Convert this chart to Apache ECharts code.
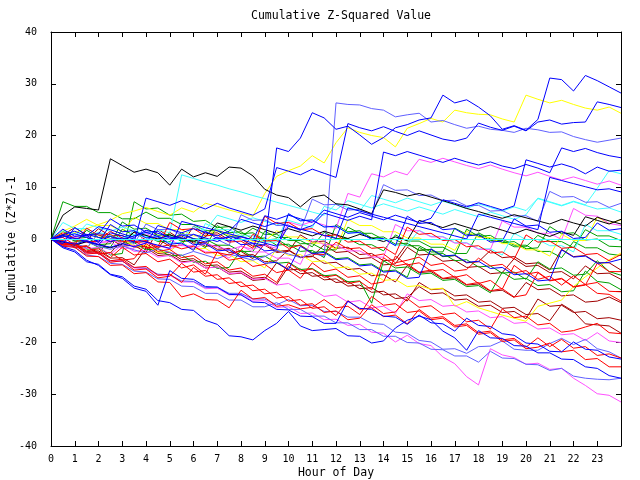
<!DOCTYPE html>
<html>
<head>
<meta charset="utf-8">
<script src="https://cdn.jsdelivr.net/npm/echarts@6/dist/echarts.min.js"></script>
<style>
html,body{margin:0;padding:0;background:#fff;}
#chart{width:640px;height:480px;}
</style>
</head>
<body>
<div id="chart"></div>
<script>
// half-hour samples, 0 .. 24
const hours = [0,0.5,1,1.5,2,2.5,3,3.5,4,4.5,5,5.5,6,6.5,7,7.5,8,8.5,9,9.5,10,10.5,11,11.5,
  12,12.5,13,13.5,14,14.5,15,15.5,16,16.5,17,17.5,18,18.5,19,19.5,20,20.5,21,21.5,22,22.5,23,23.5,24]
const hourLabels = ['0','1','2','3','4','5','6','7','8','9','10','11','12','13','14','15','16','17','18','19','20','21','22','23']
const yLabels = ['-40','-30','-20','-10','0','10','20','30','40']

const blue1 = [0,0.8,1.5,0.6,2.4,1.8,1.0,0.3,1.7,1.1,0.4,-0.2,
  0.9,0.2,-0.5,0.6,-0.1,-0.8,-1.2,17.6,16.9,19.5,24.4,23.4,
  21.2,21.8,20.1,18.3,19.6,21.5,22.1,23.0,23.4,27.8,26.3,26.9,
  25.5,23.8,21.2,21.9,21.0,23.1,31.1,30.8,28.6,31.6,30.6,29.4,28.2]
const slate1 = [0,-0.4,-1.1,-0.6,-1.4,-2.0,-1.3,-2.1,-2.7,-1.9,-2.6,-3.2,
  -2.4,-3.1,-3.8,-2.9,-3.5,-4.1,-3.4,-2.2,-2.9,-3.6,-2.8,-3.3,
  26.3,26.0,25.9,25.2,24.9,23.6,24.0,24.3,22.6,22.9,22.1,21.4,
  21.8,21.2,21.0,20.6,21.4,21.1,20.6,20.7,19.8,19.2,18.7,19.1,19.5]
const yellow1 = [0,0.5,1.2,2.0,2.8,3.6,4.9,5.4,6.1,5.3,4.6,6.0,
  5.2,6.9,6.3,5.6,5.0,4.4,8.8,12.1,13.2,14.1,16.1,14.7,
  18.6,21.5,20.6,20.0,19.6,17.8,21.4,22.3,23.3,22.6,24.9,24.4,
  24.1,24.0,23.2,22.6,27.8,27.0,26.3,26.8,26.0,25.3,24.9,25.5,24.3]
const blue2 = [0,0.6,-0.2,0.9,0.3,-0.5,0.2,-0.6,7.9,7.2,6.5,7.4,
  6.6,5.8,6.9,6.0,5.3,4.6,5.8,13.8,13.1,12.4,13.5,12.7,
  11.9,22.3,21.5,20.9,21.7,20.8,20.0,20.9,20.1,19.3,18.9,19.5,
  22.4,21.6,21.0,21.8,20.9,22.6,23.0,22.2,22.5,22.6,26.5,26.0,25.4]
const blue3 = [0,-0.5,-1.0,-0.3,-1.1,-1.6,-0.9,-1.5,-0.8,2.6,1.9,1.2,
  2.0,1.3,0.6,1.5,3.8,3.1,2.4,3.2,2.5,1.8,2.6,5.0,
  4.3,3.6,4.4,3.7,16.8,16.1,16.9,16.2,15.5,14.8,15.6,14.9,
  14.3,14.9,14.1,13.6,14.4,13.7,12.8,17.6,16.9,17.5,16.7,16.1,15.7]
const blue4 = [0,0.4,1.0,0.3,-0.4,0.5,-0.2,0.6,1.3,0.5,-0.1,0.8,
  0.1,-0.6,0.3,-0.4,0.5,-0.2,4.5,3.8,4.6,3.9,3.2,5.6,
  4.9,4.2,5.1,4.4,3.7,4.6,3.9,3.2,4.0,7.6,6.9,6.2,
  7.0,6.3,5.6,6.4,15.3,14.6,13.9,14.5,13.8,12.6,13.9,13.1,13.3]
const magenta1 = [0,-0.5,0.3,-0.3,-0.9,-0.2,-0.8,-1.4,-0.7,-1.3,-1.9,-1.1,
  -1.8,-0.9,-1.5,-2.1,-1.4,-2.0,-1.2,-1.8,3.3,2.6,3.4,2.7,
  2.0,8.8,8.1,12.6,12.0,13.1,12.4,15.4,14.8,15.6,14.9,14.2,
  13.6,14.3,13.5,12.8,12.2,12.9,12.1,11.4,12.0,11.3,10.6,11.2,10.4]
const cyan1 = [0,1.6,1.0,0.4,1.3,0.7,0.1,0.9,0.3,-0.3,0.6,0.0,
  2.4,1.7,4.6,3.9,3.2,4.1,3.4,2.7,3.6,2.9,2.2,6.3,
  5.6,7.4,6.7,6.0,6.8,6.1,5.4,6.2,5.5,4.8,5.7,5.0,
  4.3,5.2,4.5,3.8,4.7,7.9,7.2,6.5,7.3,6.6,9.8,13.2,12.6]
const cyan2 = [0,-0.3,0.5,2.9,2.2,1.5,2.3,1.6,0.9,1.8,1.2,12.4,
  11.7,11.0,10.4,9.7,9.1,8.4,7.8,7.1,6.5,5.9,5.2,4.6,
  6.8,6.1,5.4,8.4,7.7,7.0,7.9,7.2,6.5,7.3,6.6,5.9,
  6.8,6.1,5.4,6.2,5.5,7.8,7.1,6.4,7.2,6.5,5.8,6.0,5.2]
const cyan3 = [0,3.2,2.0,2.0,0.8,0.8,-0.4,1.7,0.5,0.5,-0.7,-0.7,
  -1.9,3.0,1.8,1.8,0.6,0.6,-0.6,-0.6,4.8,3.6,3.6,2.4,
  2.4,1.2,1.2,0.0,0.0,-1.2,-1.2,1.7,0.5,0.5,-0.7,-0.7,
  -1.9,-1.9,-3.1,1.1,-0.1,-0.1,-1.3,-1.3,-2.5,2.8,1.6,1.6,0.9]
const black1 = [0,4.6,6.2,5.9,5.6,15.5,14.2,12.9,13.5,12.8,10.4,13.5,
  12.0,12.8,12.1,13.9,13.7,12.2,9.6,8.5,8.0,6.2,8.1,8.5,
  6.8,6.6,5.8,4.9,9.5,9.0,8.3,8.8,8.1,7.4,6.7,5.9,
  5.3,4.6,4.0,4.7,4.1,3.5,2.9,3.8,3.1,2.5,4.2,3.5,2.9]
const black2 = [0,-0.6,-1.2,-0.5,-1.1,-1.7,-1.0,1.4,0.7,0.0,0.8,0.1,
  -0.5,0.4,3.1,2.4,1.7,2.5,1.8,1.1,2.0,1.3,0.6,1.5,
  0.8,0.1,0.9,0.2,-0.5,0.4,-0.3,3.6,2.9,2.2,3.0,2.3,
  1.6,2.4,1.7,1.0,1.9,1.2,0.5,1.4,0.7,4.3,3.6,2.9,3.8]
const red1 = [0,1.2,0.1,-0.6,-0.4,1.5,0.2,-0.5,-0.3,-1.6,-1.1,-1.9,
  -1.4,-2.7,-2.6,-3.1,-2.2,0.9,-0.4,-0.3,-1.8,-1.2,-2.9,-3.0,
  -0.6,-1.9,-1.7,-3.3,-2.9,-4.6,-4.1,-3.5,-5.1,-4.7,-6.2,-5.9,
  -3.7,-5.2,-4.9,-6.6,-6.1,-7.8,-7.2,-8.9,-7.1,-8.8,-8.4,-10.1,-10.2]
const red2 = [0,-0.9,-0.8,-2.3,-1.9,-3.6,-1.6,-3.1,-2.8,-4.4,-3.9,-5.6,
  -5.0,-6.8,-2.5,-4.1,-3.7,-5.3,-4.9,-6.5,-6.0,-7.6,-4.6,-6.3,
  -5.8,-7.4,-7.1,-8.7,-8.3,-3.3,-5.0,-4.6,-6.2,-5.9,-7.4,-6.9,
  -8.6,-8.0,-9.7,-5.1,-6.8,-6.4,-8.0,-7.6,-9.2,-8.8,-10.5,-10.7,-12.0]
const red3 = [0,-1.1,-1.0,-2.6,-2.5,-4.2,-3.9,-5.5,-5.3,-7.0,-6.8,-8.4,
  -5.5,-7.2,-6.9,-8.6,-8.3,-10.0,-9.7,-11.4,-11.1,-12.8,-12.5,-14.2,
  -13.9,-15.6,-15.3,-12.7,-14.4,-14.1,-11.5,-13.2,-12.9,-14.6,-14.3,-16.0,
  -15.7,-17.4,-13.5,-15.2,-14.9,-16.6,-16.3,-18.0,-17.7,-17.0,-16.3,-18.1,-18.3]
const red4 = [0,-0.3,-1.6,-1.4,-2.9,-2.6,-4.1,-3.8,-0.9,-2.4,-2.0,-3.6,
  -3.2,-4.8,-4.4,-6.0,-5.6,-7.2,-6.8,-8.4,-4.6,-6.2,-5.8,-7.4,
  -7.0,-8.6,-8.2,-9.8,-3.6,-5.2,-4.8,-6.4,-6.0,-7.6,-7.2,-8.8,
  -8.4,-10.0,-9.6,-11.2,-10.8,-6.5,-8.1,-7.7,-9.3,-8.9,-4.7,-6.3,-6.3]
const red5 = [0,-1.2,-1.1,-2.9,-2.7,-4.5,-4.2,-6.0,-5.8,-7.5,-7.2,-4.7,
  -6.4,-6.1,-7.8,-7.5,-9.2,-8.9,-10.6,-10.3,-12.0,-11.7,-13.4,-13.1,
  -14.8,-11.9,-13.6,-13.3,-15.0,-14.7,-16.4,-13.6,-15.3,-15.0,-16.7,-16.4,
  -18.1,-17.8,-19.5,-19.2,-20.9,-19.1,-20.8,-19.4,-21.1,-20.8,-22.5,-22.2,-23.0]
const red6 = [0,-1.4,-1.6,-3.3,-3.4,-5.1,-5.0,-6.7,-6.5,-8.3,-8.4,-11.2,
  -10.6,-11.7,-11.8,-13.3,-9.9,-11.6,-11.3,-13.0,-12.7,-13.5,-13.2,-11.7,
  -13.3,-13.0,-14.6,-11.1,-12.8,-12.5,-14.2,-13.9,-15.6,-15.3,-17.0,-16.7,
  -18.4,-18.1,-19.8,-19.5,-21.2,-20.9,-20.1,-21.8,-21.5,-23.3,-23.1,-24.7,-24.7]
const red7 = [0,0.3,-1.1,2.1,0.7,0.9,-0.5,-0.3,-1.7,-1.5,3.2,1.8,
  2.0,0.6,0.8,-0.6,-0.4,-1.8,4.4,3.0,3.2,1.8,2.0,0.6,
  0.8,-0.6,-0.4,-1.8,-1.6,-3.0,2.3,0.9,1.1,-0.3,-0.1,-1.5,
  -1.3,-2.7,-2.5,-3.9,0.8,-0.6,-0.4,-1.8,-1.6,-3.0,-2.8,-4.2,-3.0]
const darkred1 = [0,0.9,-0.4,-0.3,2.0,0.6,0.7,-0.7,-0.5,-1.9,1.3,-0.2,
  0.0,-1.4,-1.2,-2.6,-2.4,-3.8,-0.9,-2.4,-2.2,-3.6,-3.4,-1.1,
  -2.6,-2.4,-3.8,-3.6,-5.0,-4.8,-1.6,-3.1,-2.9,-4.3,-4.1,-5.5,
  -5.3,-6.7,-6.5,-3.8,-5.3,-5.1,-6.5,-6.3,-7.7,-5.2,-6.7,-6.6,-7.8]
const darkred2 = [0,-0.2,-1.5,-1.3,-2.7,0.0,-1.4,-1.2,-2.6,1.9,0.4,0.6,
  -0.8,-0.6,-2.0,-1.8,-3.2,-3.0,-4.4,-4.2,-2.1,-3.5,-3.3,-4.7,
  -4.5,-5.9,-5.7,-7.1,-6.9,-8.3,-5.1,-6.5,-6.3,-7.7,-7.5,-8.9,
  -8.7,-10.1,-9.9,-11.3,-8.4,-9.8,-9.6,-11.0,-10.8,-12.2,-12.0,-11.2,-12.3]
const darkred3 = [0,-1.1,-1.0,-2.4,-2.3,-3.7,-3.6,-5.0,-1.7,-3.2,-3.0,-4.4,
  -4.2,-5.6,-5.4,-6.8,-6.6,-8.0,-7.8,-4.6,-6.0,-5.8,-7.2,-7.0,
  -8.4,-8.2,-9.6,-9.4,-10.8,-10.6,-12.0,-8.4,-9.8,-9.6,-11.0,-10.8,
  -12.2,-12.0,-13.4,-13.2,-14.6,-14.4,-15.8,-12.6,-14.0,-16.4,-16.6,-16.8,-18.2]
const darkred4 = [0,0.8,2.2,0.7,0.9,-0.5,-0.3,1.3,-0.2,0.0,-1.4,-1.2,
  2.5,1.0,1.2,-0.2,0.0,-1.4,-1.2,-2.6,-2.4,0.8,-0.6,-0.4,
  -1.8,-1.6,-3.0,-2.8,-4.2,-4.0,-0.8,-2.2,-2.0,-3.4,-3.2,-4.6,
  -4.4,-2.2,-3.6,-3.4,-4.8,-4.6,-6.0,-2.0,-3.4,-3.2,-4.6,-4.6,-6.0]
const darkred5 = [0,-0.4,-1.7,-1.5,-2.9,-2.7,-0.2,-1.6,-1.4,-2.8,-2.6,-4.0,
  -3.8,-5.2,-5.0,-6.4,-6.2,-7.6,-7.4,-8.8,-5.3,-6.7,-6.5,-7.9,
  -7.7,-9.1,-8.9,-10.3,-10.1,-11.5,-11.3,-9.2,-10.6,-10.4,-11.8,-11.6,
  -13.0,-12.8,-14.2,-14.0,-15.4,-11.6,-13.0,-12.8,-14.2,-14.0,-15.4,-15.2,-15.7]
const green1 = [0,7.2,6.3,6.3,5.1,5.1,3.9,3.9,5.2,4.0,4.0,2.8,
  2.8,1.6,1.6,0.4,0.4,2.1,0.9,0.9,-0.3,-0.3,-1.5,1.3,
  0.1,0.1,-1.1,-1.1,-2.3,0.8,-0.4,-0.4,-1.6,-1.6,-2.8,-2.8,
  1.2,0.0,0.0,-1.2,-1.2,-2.4,-2.4,-3.6,-0.5,-1.7,-1.7,-2.9,-3.2]
const green2 = [0,-0.9,-0.6,-2.0,-1.7,-3.1,-2.8,7.2,5.8,6.0,4.6,4.8,
  3.4,3.6,2.2,2.4,1.0,1.2,-0.2,0.0,-1.4,-1.2,-2.6,-2.4,
  -3.8,-3.6,-5.0,-4.8,-6.2,-6.0,-7.4,-1.6,-3.0,-2.8,-4.2,-4.0,
  -5.4,-5.2,-6.6,-6.4,-7.8,-4.4,-5.8,-5.6,-7.0,-6.8,-4.2,-6.3,-7.0]
const green3 = [0,-1.0,-0.8,1.7,0.3,0.5,-0.9,-0.7,-2.1,-1.9,-3.3,-3.1,
  -4.5,-4.3,-5.7,-5.5,-2.1,-3.5,-3.3,-4.7,-4.5,-5.9,-5.7,-7.1,
  -6.9,-8.3,-8.1,-12.4,-4.2,-5.6,-5.4,-6.8,-6.6,-8.0,-7.8,-9.2,
  -9.0,-10.4,-6.4,-7.8,-7.6,-9.0,-8.8,-10.2,-10.0,-6.2,-8.2,-8.5,-9.8]
const green4 = [0,0.8,-0.4,-0.4,-1.6,-1.6,1.9,0.7,0.7,-0.5,-0.5,1.2,
  0.0,0.0,-1.2,-1.2,-2.4,-2.4,1.5,0.3,0.3,-0.9,-0.9,-2.1,
  -2.1,2.3,1.1,1.1,-0.1,-0.1,-1.3,-1.3,-2.5,-2.5,2.1,0.9,
  0.9,-0.3,-0.3,-1.5,-1.5,0.7,-0.5,-0.5,-1.7,1.8,0.6,0.6,-0.3]
const green5 = [0,1.5,0.1,0.3,-1.1,-0.9,3.3,1.9,2.1,0.7,0.9,-0.5,
  -0.3,-1.7,2.6,1.2,1.4,0.0,0.2,-1.2,-1.0,-2.4,-2.2,-3.6,
  2.8,1.4,1.6,0.2,0.4,-1.0,-0.8,-2.2,-2.0,-3.4,-3.2,1.9,
  0.5,0.7,-0.7,-0.5,-1.9,-1.7,2.4,1.0,1.2,-0.2,0.0,-1.4,-1.5]
const yellow2 = [0,-0.9,-0.6,-2.0,1.2,-0.2,0.0,-1.4,-1.2,-2.6,-2.4,-0.6,
  -2.0,-1.8,-3.2,-3.0,-4.4,-4.2,-5.6,-1.8,-3.2,-3.0,-4.4,-4.2,
  -5.6,-5.4,-6.8,-6.6,-8.0,-7.8,-9.2,-9.0,-9.7,-9.5,-13.0,-12.1,
  -13.3,-14.0,-14.7,-15.3,-15.9,-13.0,-12.4,-11.8,-9.2,-7.3,-5.6,-4.0,-2.7]
const yellow3 = [0,1.5,2.5,3.8,2.6,2.6,1.4,4.2,3.0,3.0,1.8,1.8,
  0.6,0.6,1.9,0.7,0.7,-0.5,-0.5,1.6,0.4,0.4,-0.8,-0.8,
  -2.0,3.8,2.6,2.6,1.4,1.4,0.2,0.2,-1.0,-1.0,-2.2,1.5,
  0.3,0.3,-0.9,-0.9,-2.1,-2.1,-3.3,0.9,-0.3,-0.3,4.2,3.0,3.7]
const magenta2 = [0,-0.8,-0.7,-1.9,-1.6,-3.0,-1.1,-2.4,-2.2,-3.5,-3.2,-4.6,
  -4.3,-5.6,-5.4,-6.7,-6.5,-7.8,-7.6,-8.9,-8.6,-10.0,-9.7,-11.1,
  -10.8,-12.2,-11.9,-13.3,-13.0,-14.4,-10.6,-11.9,-11.7,-13.0,-12.8,-14.1,
  -13.9,-15.2,-15.0,-16.3,-16.1,-17.4,-17.2,-18.5,-18.3,-19.6,-18.1,-19.7,-20.0]
const magenta3 = [0,-0.1,0.6,0.6,-0.6,-0.6,-1.8,-1.8,1.1,-0.1,-0.1,-1.3,
  -1.3,-2.5,-2.5,-3.7,-1.3,-2.5,-2.5,-3.7,-3.7,-4.9,0.1,-1.1,
  -1.1,-2.3,-2.3,-3.5,-3.5,2.8,1.6,1.6,0.4,0.4,-0.8,-0.8,
  -2.0,-2.0,3.5,2.3,2.3,1.1,1.1,-0.1,5.9,4.6,4.4,3.0,2.6]
const magenta4 = [0,-1.1,-1.3,-2.7,-2.8,-4.2,-4.3,-5.6,-5.7,-7.0,-7.0,-8.3,
  -8.3,-9.6,-9.5,-10.8,-10.7,-12.0,-11.9,-13.2,-13.1,-14.4,-14.3,-15.6,
  -15.5,-16.7,-16.5,-18.0,-18.2,-19.9,-18.6,-20.2,-20.6,-22.8,-24.1,-26.6,
  -28.2,-21.2,-22.4,-22.9,-24.2,-24.0,-25.2,-25.0,-26.9,-28.3,-29.9,-30.2,-31.5]
const blue5 = [0,-0.9,2.2,0.8,1.0,3.9,2.5,2.7,1.3,1.5,0.1,0.3,
  -1.1,-0.9,-2.3,-2.1,-3.5,-3.3,-4.7,-4.5,-5.9,-1.4,-2.8,-2.6,
  -4.0,-3.8,-5.2,-5.0,-6.4,-6.2,-7.6,-7.4,-1.9,-3.3,-3.1,-4.5,
  -4.3,-5.7,-5.5,-6.9,-6.7,-8.1,-7.9,-2.1,-3.5,-3.3,-4.7,-4.5,-3.9]
const blue6 = [0,0.7,0.1,-0.5,-1.1,1.2,0.6,0.0,-0.6,-1.2,-1.8,3.4,
  2.8,2.2,1.6,1.0,0.4,-0.2,-0.8,-1.4,2.5,1.9,1.3,0.7,
  0.1,6.0,5.4,4.8,4.2,3.6,3.0,2.4,1.8,1.2,0.6,0.0,
  4.8,4.2,3.6,3.0,2.4,1.8,11.9,11.3,10.7,10.1,9.5,9.7,9.1]
const blue7 = [0,-1.7,-2.5,-4.4,-4.9,-6.8,-7.3,-9.1,-9.7,-11.9,-12.3,-13.6,
  -13.8,-15.7,-16.5,-18.7,-18.9,-19.5,-17.7,-16.3,-14.0,-16.8,-17.7,-17.5,
  -17.3,-18.7,-18.8,-20.1,-19.7,-17.2,-15.7,-14.9,-15.6,-17.8,-19.1,-21.5,
  -17.7,-19.1,-19.2,-20.6,-20.7,-22.0,-22.0,-23.2,-23.3,-24.7,-25.0,-26.4,-26.9]
const blue8 = [0,-1.5,-2.2,-4.1,-5.1,-6.9,-7.6,-9.5,-10.1,-12.8,-6.1,-7.6,
  -7.8,-9.2,-9.3,-10.7,-10.8,-12.2,-12.3,-13.6,-13.7,-14.9,-15.0,-16.3,
  -16.3,-12.0,-13.4,-13.6,-14.9,-15.1,-16.5,-14.7,-16.2,-16.4,-17.8,-15.3,
  -16.7,-16.9,-18.3,-18.6,-20.1,-20.3,-21.7,-21.8,-19.9,-21.3,-21.5,-22.8,-23.2]
const blue9 = [0,1.9,0.5,0.7,-0.7,2.8,1.4,1.6,0.2,0.4,-1.0,-0.8,
  -2.2,1.5,0.1,0.3,-1.1,-0.9,-2.3,-2.1,4.9,3.5,3.7,2.3,
  2.5,1.1,1.3,-0.1,0.1,-1.3,4.4,3.0,3.2,1.8,2.0,0.6,
  0.8,-0.6,-0.4,3.9,2.5,2.7,1.3,1.5,0.1,0.3,3.1,1.7,2.0]
const slate2 = [0,-1.1,-1.3,-2.6,-2.8,-4.2,-4.3,-5.5,-5.6,-6.8,-6.9,-8.1,
  -8.2,-9.4,-9.3,-10.5,-10.5,-11.6,-11.6,-12.7,-11.7,-12.9,-12.8,-14.0,
  -14.0,-15.1,-15.1,-16.3,-16.5,-18.0,-18.2,-19.6,-19.9,-21.3,-21.2,-22.1,
  -20.8,-20.7,-19.7,-21.3,-21.5,-21.5,-20.2,-19.2,-20.4,-19.4,-21.2,-21.8,-23.0]
const slate3 = [0,-1.2,-1.6,-3.1,-3.4,-4.7,-4.9,-6.2,-6.4,-7.7,-7.8,-9.1,
  -9.2,-10.5,-10.5,-11.8,-11.8,-13.1,-13.1,-12.3,-13.6,-13.6,-14.9,-14.9,
  -16.2,-16.2,-17.5,-17.5,-18.8,-18.8,-20.0,-20.1,-21.3,-21.4,-22.6,-22.6,
  -23.8,-21.7,-23.0,-23.1,-24.2,-24.3,-25.4,-25.0,-26.5,-26.9,-27.1,-27.2,-26.9]
const slate4 = [0,-0.8,-0.7,-1.8,1.2,0.1,0.2,-0.9,2.9,1.8,1.9,0.8,
  0.9,-0.2,-0.1,-1.2,4.7,3.6,3.7,2.6,2.7,1.6,7.7,6.6,
  6.7,5.6,5.7,4.6,10.5,9.4,9.5,8.4,8.5,7.4,7.5,6.4,
  6.5,5.4,5.5,4.4,4.5,3.4,9.2,8.1,8.2,7.1,7.2,6.1,6.9]

let lines = [
  ['#a00000', darkred1], ['#a00000', darkred2], ['#a00000', darkred3], ['#a00000', darkred4], ['#a00000', darkred5],
  ['#00a000', green1], ['#00a000', green2], ['#00a000', green3], ['#00a000', green4], ['#00a000', green5],
  ['#ffff00', yellow1], ['#ffff00', yellow2], ['#ffff00', yellow3],
  ['#40ffff', cyan1], ['#40ffff', cyan2], ['#40ffff', cyan3],
  ['#ff50ff', magenta1], ['#ff50ff', magenta2], ['#ff50ff', magenta3], ['#ff50ff', magenta4],
  ['#6060ff', slate1], ['#6060ff', slate2], ['#6060ff', slate3], ['#6060ff', slate4],
  ['#000000', black1], ['#000000', black2],
  ['#ff0000', red1], ['#ff0000', red2], ['#ff0000', red3], ['#ff0000', red4],
  ['#ff0000', red5], ['#ff0000', red6], ['#ff0000', red7],
  ['#0000ff', blue1], ['#0000ff', blue2], ['#0000ff', blue3], ['#0000ff', blue4], ['#0000ff', blue5],
  ['#0000ff', blue6], ['#0000ff', blue7], ['#0000ff', blue8], ['#0000ff', blue9]
]

let font = 'DejaVu Sans Mono'
let series = lines.map(function (l) {
  return {
    type: 'line',
    data: hours.map(function (h, i) { return [h, l[1][i]] }),
    showSymbol: false,
    symbol: 'none',
    lineStyle: { color: l[0], width: 1 },
    itemStyle: { color: l[0] },
    silent: true,
    z: 2
  }
})
// cyan reference line at zero
series.push({
  type: 'line',
  data: [],
  markLine: {
    silent: true,
    symbol: 'none',
    label: { show: false },
    lineStyle: { color: '#40ffff', width: 1, type: 'solid' },
    data: [{ yAxis: 0 }]
  },
  z: 3
})

let chart = echarts.init(document.getElementById('chart'))
chart.setOption({
  animation: false,
  backgroundColor: '#fff',
  title: {
    text: 'Cumulative Z-Squared Value',
    left: 336,
    textAlign: 'center',
    top: 5,
    textStyle: { fontFamily: font, fontSize: 11.5, fontWeight: 'normal', color: '#000' }
  },
  grid: { left: 51, right: 19, top: 32, bottom: 34, containLabel: false, outerBoundsMode: 'none' },
  xAxis: [{
    type: 'value', min: 0, max: 24, interval: 1,
    name: 'Hour of Day', nameLocation: 'middle', nameGap: 21, nameMoveOverlap: false,
    nameTextStyle: { fontFamily: font, fontSize: 11.5, color: '#000' },
    axisLine: { show: true, onZero: false, lineStyle: { color: '#000', width: 1 } },
    axisTick: { inside: true, length: 5, lineStyle: { color: '#000' } },
    axisLabel: {
      fontFamily: font, fontSize: 10, color: '#000', margin: 8,
      formatter: function (v) { return hourLabels[v] || '' }
    },
    splitLine: { show: false }
  }, {
    type: 'value', min: 0, max: 24, interval: 1, position: 'top',
    axisLine: { show: true, onZero: false, lineStyle: { color: '#000', width: 1 } },
    axisTick: { inside: true, length: 5, lineStyle: { color: '#000' } },
    axisLabel: { show: false },
    splitLine: { show: false }
  }],
  yAxis: [{
    type: 'value', min: -40, max: 40, interval: 10,
    name: 'Cumulative (Z*Z)-1', nameLocation: 'middle', nameGap: 33, nameMoveOverlap: false,
    nameTextStyle: { fontFamily: font, fontSize: 11.5, color: '#000' },
    axisLine: { show: true, onZero: false, lineStyle: { color: '#000', width: 1 } },
    axisTick: { inside: true, length: 5, lineStyle: { color: '#000' } },
    axisLabel: {
      fontFamily: font, fontSize: 10, color: '#000', margin: 14,
      formatter: function (v) { return yLabels[(v + 40) / 10] }
    },
    splitLine: { show: false }
  }, {
    type: 'value', min: -40, max: 40, interval: 10, position: 'right',
    axisLine: { show: true, onZero: false, lineStyle: { color: '#000', width: 1 } },
    axisTick: { inside: true, length: 5, lineStyle: { color: '#000' } },
    axisLabel: { show: false },
    splitLine: { show: false }
  }],
  series: series
})
</script>
</body>
</html>
